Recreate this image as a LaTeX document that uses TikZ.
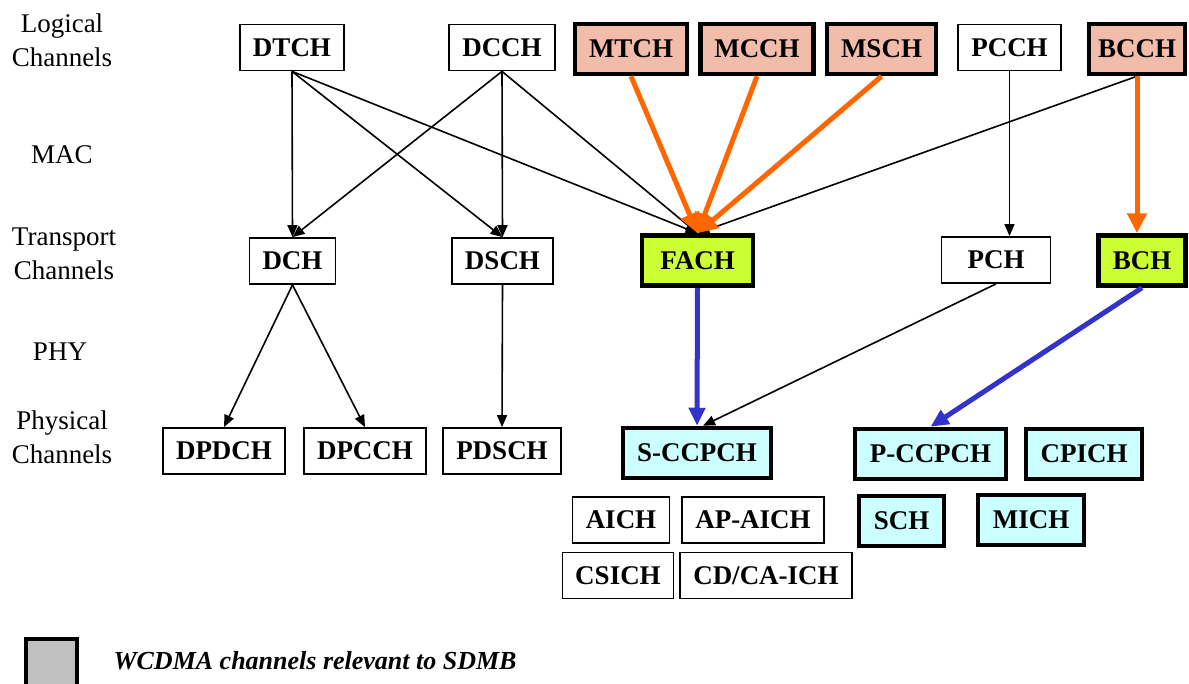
\documentclass[tikz,border=0pt]{standalone}
\usepackage{fontspec}
\setmainfont{Liberation Serif}
\usetikzlibrary{arrows.meta}
\definecolor{salmonfill}{HTML}{F2BCAA}
\definecolor{limefill}{HTML}{CCFF33}
\definecolor{icefill}{HTML}{CCFFFF}
\definecolor{orangeline}{HTML}{FF6600}
\definecolor{blueline}{HTML}{3333CC}
\definecolor{keyfill}{HTML}{C0C0C0}
\tikzset{
  chan/.style={draw, line width=1.8pt, inner sep=0pt, font=\fontsize{27}{30}\selectfont\bfseries, minimum height=46pt},
  hot/.style={chan, line width=4.5pt, minimum height=50pt},
  logicbox/.style={hot, fill=salmonfill},
  transbox/.style={hot, fill=limefill},
  physbox/.style={hot, fill=icefill},
  lab/.style={font=\fontsize{27}{34}\selectfont, align=center},
  blk/.style={line width=1.6pt, -{Triangle[length=12pt,width=10pt]}},
  orangearrow/.style={draw=orangeline, line width=5pt, -{Triangle[length=20pt,width=19pt]}},
  bluearrow/.style={draw=blueline, line width=5pt, -{Triangle[length=18pt,width=16pt]}},
}
\begin{document}
\begin{tikzpicture}[x=1pt,y=-1pt]
\useasboundingbox (0,0) rectangle (1189,683);
% side labels
\node[lab] (lg) at (62,40) {Logical\\Channels};
\node[lab] (mac) at (62,155) {MAC};
\node[lab] (tr) at (64,254) {Transport\\Channels};
\node[lab] (phy) at (60,352) {PHY};
\node[lab] (ph) at (62,437) {Physical\\Channels};
% logical
\node[chan, minimum width=104pt] (dtch) at (292,47.5) {DTCH};
\node[chan, minimum width=106pt] (dcch) at (502,47.5) {DCCH};
\node[logicbox, minimum width=112pt] (mtch) at (631,49) {MTCH};
\node[logicbox, minimum width=113pt] (mcch) at (757,49) {MCCH};
\node[logicbox, minimum width=109pt] (msch) at (881.5,49) {MSCH};
\node[chan, minimum width=103pt] (pcch) at (1009.5,47.5) {PCCH};
\node[logicbox, minimum width=96pt] (bcch) at (1137,49) {BCCH};
% transport
\node[chan, minimum width=86pt] (dch) at (292.5,261) {DCH};
\node[chan, minimum width=101pt] (dsch) at (502.5,261) {DSCH};
\node[transbox, minimum width=111pt] (fach) at (697.5,260.5) {FACH};
\node[chan, minimum width=109pt] (pch) at (996,260) {PCH};
\node[transbox, minimum width=87pt] (bch) at (1142,260.5) {BCH};
% physical
\node[chan, minimum width=122pt] (dpdch) at (224,451) {DPDCH};
\node[chan, minimum width=122pt] (dpcch) at (365,451) {DPCCH};
\node[chan, minimum width=118pt] (pdsch) at (502,451) {PDSCH};
\node[physbox, minimum width=148pt] (sccpch) at (697,453) {S-CCPCH};
\node[chan, minimum width=97pt] (aich) at (621,520) {AICH};
\node[chan, minimum width=142pt] (apaich) at (753,520) {AP-AICH};
\node[chan, minimum width=111pt] (csich) at (618,575.5) {CSICH};
\node[chan, minimum width=172pt] (cdcaich) at (766,575.5) {CD/CA-ICH};
\node[physbox, minimum width=151pt] (pccpch) at (930.5,454) {P-CCPCH};
\node[physbox, minimum width=116pt] (cpich) at (1084,454) {CPICH};
\node[physbox, minimum width=85pt] (sch) at (901.5,521) {SCH};
\node[physbox, minimum width=106pt] (mich) at (1031,520) {MICH};
% connectors
\draw[blk] (dtch.south) -- (dch.north);
\draw[blk] (dtch.south) -- (dsch.north);
\draw[blk] (dtch.south) -- (fach.north);
\draw[blk] (dcch.south) -- (dch.north);
\draw[blk] (dcch.south) -- (dsch.north);
\draw[blk] (dcch.south) -- (fach.north);
\draw[blk] (bcch.south) -- (fach.north);
\draw[blk] (pcch.south) -- (pcch.south |- pch.north);
\draw[orangearrow] (mtch.south) -- (fach.north);
\draw[orangearrow] (mcch.south) -- (fach.north);
\draw[orangearrow] (msch.south) -- (fach.north);
\draw[orangearrow] (bcch.south) -- (bcch.south |- bch.north);
\draw[blk] (dch.south) -- (dpdch.north);
\draw[blk] (dch.south) -- (dpcch.north);
\draw[blk] (dsch.south) -- (pdsch.north);
\draw[bluearrow] (fach.south) -- (sccpch.north);
\draw[blk] (pch.south) -- ([xshift=6pt]sccpch.north);
\draw[bluearrow] (bch.south) -- (pccpch.north);
% legend
\node[draw, line width=4.5pt, fill=keyfill, inner sep=0pt, minimum width=51pt, minimum height=52pt] (key) at (51.5,665) {};
\node[anchor=west, font=\fontsize{26}{30}\selectfont\bfseries\itshape] (keytext) at (110,661) {WCDMA channels relevant to SDMB};
\end{tikzpicture}
\end{document}
